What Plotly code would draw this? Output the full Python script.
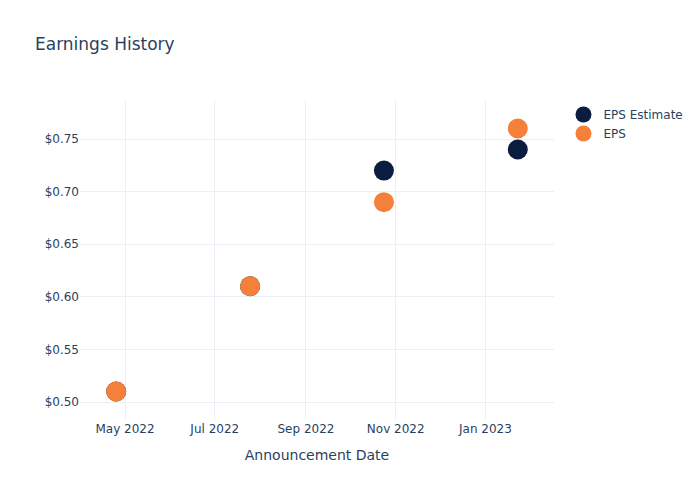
import plotly.graph_objects as go

dates = ["2022-04-25", "2022-07-25", "2022-10-24", "2023-01-23"]
eps_estimate = [0.51, 0.61, 0.72, 0.74]
eps_actual = [0.51, 0.61, 0.69, 0.76]

fig = go.Figure()
fig.add_trace(go.Scatter(x=dates, y=eps_estimate, mode="markers", name="EPS Estimate",
                         marker=dict(size=20, color="#0b1d3f")))
fig.add_trace(go.Scatter(x=dates, y=eps_actual, mode="markers", name="EPS",
                         marker=dict(size=20, color="#f5803a")))
fig.update_layout(
    template="plotly_white",
    width=700, height=500,
    font=dict(family="DejaVu Sans"),
    title=dict(text="Earnings History"),
    xaxis=dict(title=dict(text="Announcement Date")),
    yaxis=dict(tickprefix="$", tickformat=".2f"),
)
fig.write_html("out.html", config={"displayModeBar": False},
               post_script="document.body.style.margin='0';")
